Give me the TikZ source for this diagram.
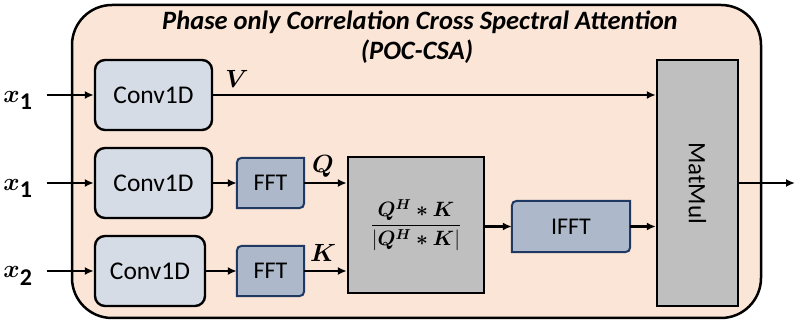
\documentclass[tikz,border=0pt]{standalone}
\usepackage{amsmath,bm}
\usepackage{fontspec}
\setmainfont{Carlito}
\usetikzlibrary{arrows.meta, positioning, calc, backgrounds}
\definecolor{peach}{HTML}{FBE5D6}
\definecolor{convfill}{HTML}{D6DCE5}
\definecolor{fftfill}{HTML}{ADB9CA}
\definecolor{fftline}{HTML}{203864}
\definecolor{pocfill}{HTML}{BFBFBF}
\tikzset{
    convbox/.style={rectangle, draw, line width=2.4pt, rounded corners=10pt, fill=convfill, minimum width=117pt, minimum height=70pt, font=\fontsize{25.5}{30}\selectfont},
    fftbox/.style={rectangle, inner sep=0pt, minimum width=67pt, minimum height=50pt, font=\fontsize{24}{28}\selectfont},
    fftedge/.style={draw=fftline, fill=fftfill, line width=2pt},
    arrow/.style={line width=2.6pt, -{Latex[length=9pt,width=8pt]}}
}

\begin{document}
\begin{tikzpicture}[
    x=1pt, y=-1pt,
    graybox/.style={rectangle, draw, line width=2.4pt, fill=pocfill},
    mathlabel/.style={inner sep=0pt, font=\fontsize{24}{28}\selectfont},
    title/.style={font=\fontsize{26.5}{30}\selectfont\bfseries\itshape}
]
    \useasboundingbox (0,0) rectangle (798,328);

    % Outer block
    \begin{scope}[on background layer]
        \draw[line width=2.5pt, fill=peach, rounded corners=40pt] (72,5) rectangle (761,318);
    \end{scope}
    \node (title1) [title] at (420,22) {Phase only Correlation Cross Spectral Attention};
    \node (title2) [title] at (417,52) {(POC-CSA)};

    % Inputs
    \node (xv) [mathlabel] at (18,100) {$\bm{x}_{\textstyle\mathbf{1}}$};
    \node (xq) [mathlabel] at (18,188) {$\bm{x}_{\textstyle\mathbf{1}}$};
    \node (xk) [mathlabel] at (18,276) {$\bm{x}_{\textstyle\mathbf{2}}$};
    \coordinate (inv) at (47,95);
    \coordinate (inq) at (47,183);
    \coordinate (ink) at (47,271);

    % Conv1D blocks
    \node (convv) [convbox] at (153.5,95) {Conv1D};
    \node (convq) [convbox] at (153.5,183) {Conv1D};
    \node (convk) [convbox, minimum width=110pt] at (150,271) {Conv1D};

    % FFT blocks
    \node (fftq) [fftbox] at (270.5,183) {FFT};
    \node (fftk) [fftbox] at (270.5,271) {FFT};
    \node (ifft) [fftbox, minimum width=118pt, minimum height=51pt] at (571,226.5) {IFFT};
    \begin{scope}[on background layer]
        \foreach \n in {fftq, fftk, ifft} {
            \path[fftedge] (\n.south west) -- ([yshift=-11pt]\n.north west)
                .. controls (\n.north west) .. ([xshift=11pt]\n.north west)
                -- (\n.north east) -- ([yshift=11pt]\n.south east)
                .. controls (\n.south east) .. ([xshift=-11pt]\n.south east) -- cycle;
        }
    \end{scope}

    % Phase only correlation
    \node (poc) [graybox, minimum width=136pt, minimum height=136pt, font=\fontsize{20.5}{24}\selectfont] at (416,225)
        {$\dfrac{\bm{Q^H * K}}{|\bm{Q^H * K}|}$};

    % MatMul
    \node (matmul) [graybox, minimum width=81pt, minimum height=246pt,
        label={[rotate=-90, font=\fontsize{25}{30}\selectfont]center:MatMul}] at (697.5,183) {};
    \coordinate (out) at (795,183);

    % Labels
    \node (vlab) [mathlabel] at (237,79) {$\bm{V}$};
    \node (qlab) [mathlabel] at (323,166) {$\bm{Q}$};
    \node (klab) [mathlabel] at (323,253) {$\bm{K}$};

    % Connections
    \draw [arrow] (inv) -- (convv);
    \draw [arrow] (inq) -- (convq);
    \draw [arrow] (ink) -- (convk);
    \draw [arrow] (convv) -- (convv -| matmul.west);
    \draw [arrow] (convq) -- (fftq);
    \draw [arrow] (convk) -- (fftk);
    \draw [arrow] (fftq) -- (fftq -| poc.west);
    \draw [arrow] (fftk) -- (fftk -| poc.west);
    \draw [arrow] (poc.east |- ifft.west) -- (ifft.west);
    \draw [arrow] (ifft) -- (ifft -| matmul.west);
    \draw [arrow] (matmul) -- (out);

\end{tikzpicture}
\end{document}
